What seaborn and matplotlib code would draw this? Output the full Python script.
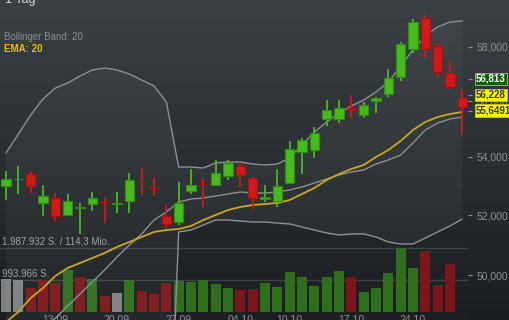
import numpy as np
import pandas as pd
import matplotlib
matplotlib.use("Agg")
import matplotlib.pyplot as plt
import matplotlib.transforms as mtrans
from matplotlib.ticker import FixedLocator, NullLocator, NullFormatter, FuncFormatter
import seaborn as sns

sns.set_style("dark")
plt.rcParams['font.family'] = ['Liberation Sans', 'DejaVu Sans']

# ---------------- data ----------------
opens = [52990, 53215, 53417, 52396, 52577, 52000, 52253, 52372, 52451, 52389,
         52485, 53175, 52956, 51966, 51763, 52817, 53071, 53024, 53337, 53684,
         53279, 52533, 52485, 53104, 54186, 54246, 55349, 55349, 55745, 55491,
         56000, 56256, 56869, 57913, 59089, 58049, 57020, 56120]
closes = [53220, 53230, 52990, 52646, 51966, 52485, 52270, 52567, 52430, 52406,
          53199, 53158, 52936, 51696, 52416, 53024, 53050, 53453, 53779, 53368,
          52567, 52600, 52990, 54270, 54597, 54838, 55672, 55745, 55672, 55854,
          56098, 56832, 58102, 58938, 57925, 57047, 56498, 55792]
highs = [53510, 53685, 53485, 53024, 52760, 52715, 52416, 52793, 52622, 52793,
         53453, 53626, 53258, 52338, 53140, 53570, 53279, 53895, 53895, 53835,
         53313, 53024, 53570, 54572, 54656, 55052, 56036, 56036, 56219, 55964,
         56146, 57165, 58200, 59051, 59214, 58139, 57474, 56427]
lows = [52510, 52715, 52760, 51966, 51797, 51966, 51362, 52145, 51730, 52078,
        52057, 52670, 52646, 51562, 51662, 52715, 52260, 52990, 53199, 52946,
        52193, 52451, 52280, 53094, 53403, 53954, 55097, 55206, 55385, 55385,
        55563, 56135, 56746, 57786, 57576, 56892, 56437, 54778]

bb_upper = [54140, 54812, 55493, 56073, 56475, 56659, 56917, 57140, 57214, 57140,
            56991, 56770, 56549, 55964, 53649, 53649, 53614, 53789, 53824, 53824,
            53754, 53719, 53754, 53964, 54422, 54884, 55241, 55565, 55819, 56037,
            56329, 56696, 57288, 57887, 58416, 58759, 58950, 58988]
bb_middle = [47140, 47510, 47880, 48260, 48635, 49016, 49400, 49786, 50176, 50602,
             50998, 51364, 51833, 52103, 52443, 52545, 52579, 52648, 52716, 52785,
             52750, 52750, 52785, 52854, 52957, 53094, 53233, 53371, 53475, 53545,
             53754, 53894, 54069, 54493, 54955, 55205, 55349, 55421]
bb_lower = [40140, 40210, 40270, 40450, 40800, 41370, 41880, 42430, 43140, 44060,
            45000, 45960, 47120, 42000, 51431, 51497, 51665, 51833, 51833, 51800,
            51766, 51766, 51732, 51699, 51598, 51497, 51397, 51330, 51364, 51364,
            51264, 51097, 51031, 51031, 51230, 51431, 51631, 51867]
ema20 = [48509, 48825, 49272, 49593, 49981, 50241, 50405, 50569, 50734, 50932,
         51097, 51264, 51431, 51497, 51531, 51631, 51833, 52002, 52171, 52273,
         52341, 52375, 52409, 52511, 52716, 52922, 53198, 53406, 53580, 53719,
         53999, 54245, 54563, 54955, 55241, 55421, 55529, 55602]

volume = [1025000, 994000, 745000, 994000, 901000, 1305000, 1087000, 1025000, 497000, 590000,
          994000, 652000, 559000, 901000, 963000, 932000, 994000, 870000, 745000, 683000,
          714000, 901000, 777000, 1242000, 1087000, 808000, 1087000, 1273000, 1087000, 621000,
          745000, 1211000, 1987932, 1367000, 1895000, 839000, 1491000]
vol_dir = ['flat', 'flat', 'down', 'down', 'down', 'up', 'down', 'up', 'down', 'flat',
           'up', 'down', 'down', 'down', 'up', 'up', 'up', 'up', 'up', 'down',
           'down', 'up', 'up', 'up', 'up', 'up', 'up', 'up', 'down', 'up',
           'up', 'up', 'up', 'up', 'down', 'down', 'down']
vol_max = 1987932

date_labels = ["13.09", "20.09", "27.09", "04.10", "10.10", "17.10", "24.10"]
date_label_idx = [4, 9, 14, 19, 23, 28, 33]
price_ticks = [50000, 52000, 54000, 56000, 58000]
marker_values = [56813, 56228, 55649.1]
marker_texts = ["56,813", "56,228", "55,6491"]

# ---------------- figure ----------------
fig = plt.figure(figsize=(5.1, 3.2), dpi=100)

# background gradient
bg = fig.add_axes([0, 0, 1, 1], zorder=0)
rows = np.linspace(0, 1, 320)
stops = [0.0, 0.35, 0.7, 1.0]
cols = np.array([[60, 65, 69], [47, 52, 56], [36, 40, 43], [27, 30, 33]]) / 255.0
grad = np.stack([np.interp(rows, stops, cols[:, k]) for k in range(3)], axis=-1)
bg.imshow(grad[:, None, :], aspect='auto', extent=[0, 1, 0, 1], origin='upper')
bg.set_axis_off()

rect = [0, 0, 468 / 510, 1]
xlim = (-6 / 12.333, (468 - 6) / 12.333)

# volume axes
ax_vol = fig.add_axes(rect, zorder=1)
ax_vol.patch.set_visible(False)
df_vol = pd.DataFrame({'idx': np.arange(len(volume)), 'volume': volume, 'dir': vol_dir})
pal = {'up': '#2f6f1c', 'down': '#7c1619', 'flat': '#7e8082'}
sns.barplot(data=df_vol, x='idx', y='volume', hue='dir', palette=pal, dodge=False,
            width=0.8, errorbar=None, legend=False, saturation=1, linewidth=0,
            ax=ax_vol, zorder=2)
vlim_lo = -0.025 * vol_max / 0.2
vlim_hi = 0.975 * vol_max / 0.2
ax_vol.set_xlim(*xlim)
ax_vol.set_ylim(vlim_lo, vlim_hi)
ax_vol.axhspan(vlim_lo, 0, color='#1c1f22', zorder=0.5, lw=0)
for v in (vol_max, vol_max / 2):
    ax_vol.axhline(v, color='#3e4347', lw=1.0, zorder=0.6)
blend_v = mtrans.blended_transform_factory(ax_vol.transAxes, ax_vol.transData)
ax_vol.annotate("1.987.932 S. / 114,3 Mio.", xy=(0, vol_max), xycoords=blend_v,
                xytext=(2, 6), textcoords='offset pixels', va='center', ha='left',
                fontsize=7, color='#9a9ea2', zorder=1)
ax_vol.annotate("993.966 S.", xy=(0, vol_max / 2), xycoords=blend_v,
                xytext=(2, 6), textcoords='offset pixels', va='center', ha='left',
                fontsize=7, color='#9a9ea2', zorder=1)
ax_vol.set_axis_off()

# price axes
ax = fig.add_axes(rect, zorder=2)
ax.patch.set_visible(False)
ax.set_yscale('log')
idx = np.arange(len(closes))

ax.fill_between(idx, bb_lower, bb_upper, color='white', alpha=0.04, lw=0, zorder=1)
for series in (bb_upper, bb_middle, bb_lower):
    sns.lineplot(x=idx, y=series, ax=ax, color='#8d9195', lw=1.0, zorder=3)
sns.lineplot(x=idx, y=ema20, ax=ax, color='#c9a915', lw=1.3, zorder=3)

o = np.array(opens); c = np.array(closes)
up = c >= o
fill_col = np.where(up, '#46bb1c', '#d41818')
edge_col = np.where(up, '#2f8c10', '#a51212')
ax.vlines(idx, lows, highs, colors=fill_col, lw=1.3, zorder=4)
ax.bar(idx, np.abs(c - o), bottom=np.minimum(o, c), width=0.74,
       color=fill_col, edgecolor=edge_col, lw=0.8, zorder=5)

ax.set_xlim(*xlim)
ax.set_ylim(48572, 59798)
ax.set_xlabel(''); ax.set_ylabel('')
ax.set_xticks([])
ax.yaxis.tick_right()
ax.yaxis.set_major_locator(FixedLocator(price_ticks))
ax.yaxis.set_major_formatter(FuncFormatter(lambda v, p: f"{v:,.0f}"))
ax.yaxis.set_minor_locator(FixedLocator(marker_values))
ax.yaxis.set_minor_formatter(NullFormatter())
ax.tick_params(axis='y', which='major', length=3, width=0.8, color='#8f9397',
               labelcolor='#8f9397', labelsize=7.5, pad=3, direction='out')
ax.tick_params(axis='y', which='minor', length=3, width=0.8, color='#8f9397', direction='out')
ax.tick_params(left=False, bottom=False)
for s in list(ax.spines.values()) + list(ax_vol.spines.values()):
    s.set_visible(False)

# date labels (cut by the bottom edge, as in the reference)
blend_x = mtrans.blended_transform_factory(ax.transData, ax.transAxes)
for i, lab in zip(date_label_idx, date_labels):
    ax.text(i, 0, lab, transform=blend_x, ha='center', va='center',
            fontsize=7.5, color='#8f9397', clip_on=False)

# price markers on the right
styles = [dict(fc='#135f10', ec='#8fcf7a', tc='white'),
          dict(fc='#f5f500', ec='#c8c800', tc='#3a3a2a'),
          dict(fc='#f5f500', ec='#c8c800', tc='#3a3a2a')]
for val, txt, st in zip(marker_values, marker_texts, styles):
    ax.annotate(txt, xy=(1, val), xycoords=('axes fraction', 'data'),
                xytext=(8, 0), textcoords='offset pixels', ha='left', va='center',
                fontsize=7, fontweight='bold', color=st['tc'], annotation_clip=False,
                bbox=dict(boxstyle='square,pad=0.12', fc=st['fc'], ec=st['ec'], lw=0.6),
                zorder=10)

# header texts
fig.text(5 / 510, 1.0, "1 Tag", ha='left', va='center', fontsize=9, color='#d5d8db')
fig.text(4 / 510, 1 - 37 / 320, "Bollinger Band: 20", ha='left', va='center',
         fontsize=7, color='#8a8e92')
fig.text(4 / 510, 1 - 49 / 320, "EMA: 20", ha='left', va='center',
         fontsize=7, color='#e3c000', fontweight='bold')

fig.savefig("out.png", dpi=100)
